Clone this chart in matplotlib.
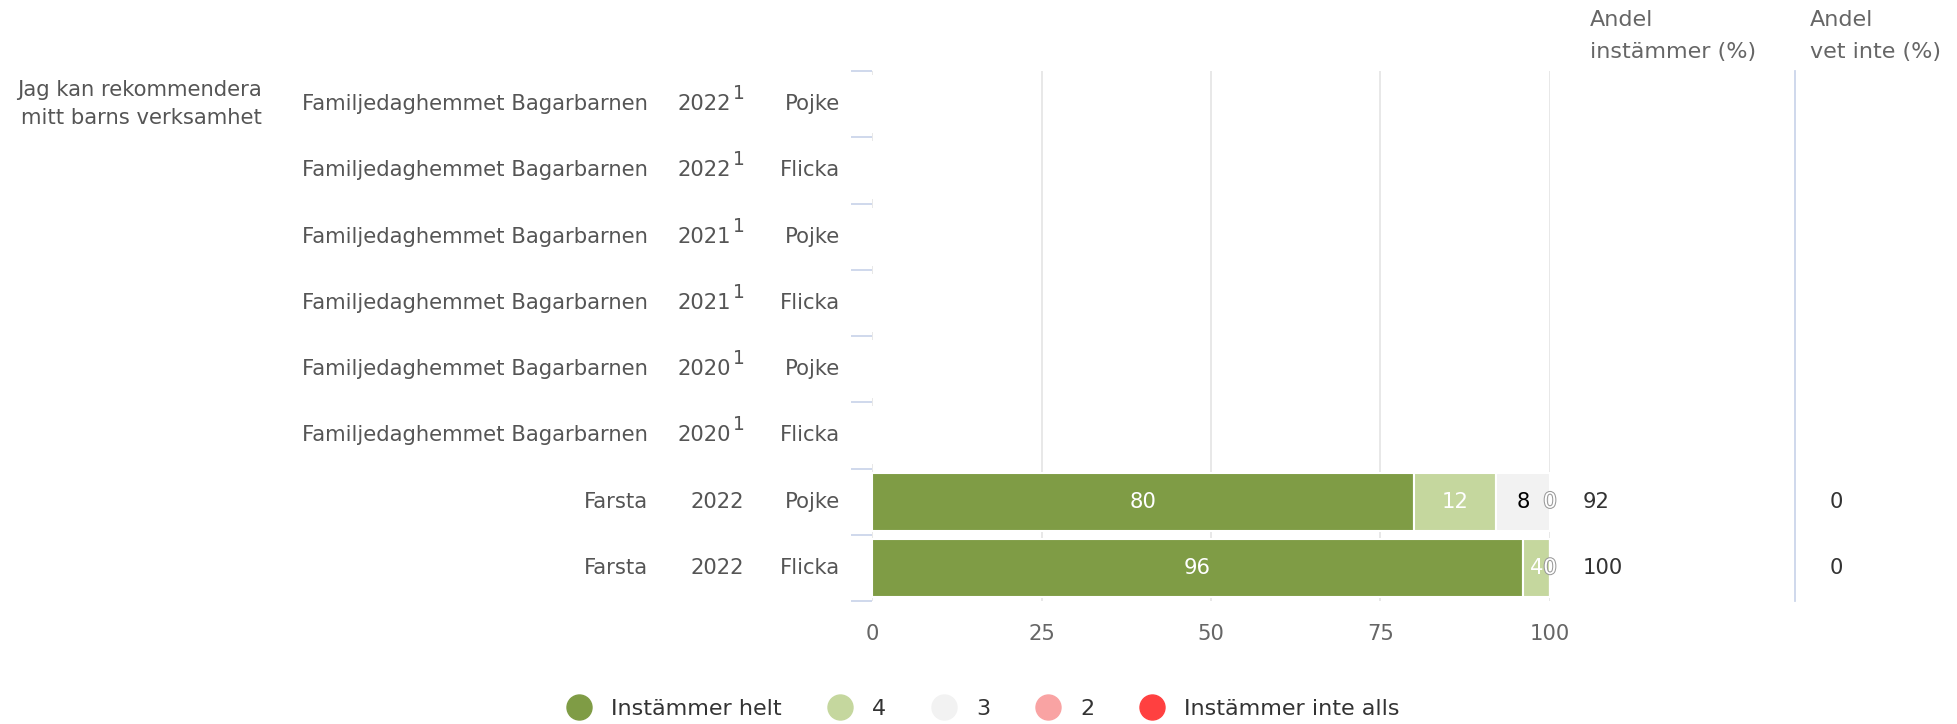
import numpy as np
import matplotlib.pyplot as plt
import matplotlib.transforms as mtransforms
import matplotlib.patheffects as pe
from matplotlib.lines import Line2D

plt.rcParams['font.family'] = ['DejaVu Sans']

# data
question = "Jag kan rekommendera\nmitt barns verksamhet"
schools = ["Familjedaghemmet Bagarbarnen"] * 6 + ["Farsta", "Farsta"]
years = ["2022", "2022", "2021", "2021", "2020", "2020", "2022", "2022"]
notes = ["1", "1", "1", "1", "1", "1", "", ""]
genders = ["Pojke", "Flicka", "Pojke", "Flicka", "Pojke", "Flicka", "Pojke", "Flicka"]

series_names = ["Instämmer helt", "4", "3", "2", "Instämmer inte alls"]
series_colors = ["#7f9c45", "#c5d79e", "#f2f2f2", "#f9a3a3", "#ff4040"]
label_colors = ["white", "white", "black", "white", "white"]

nan = np.nan
values = np.array([
    [nan, nan, nan, nan, nan],
    [nan, nan, nan, nan, nan],
    [nan, nan, nan, nan, nan],
    [nan, nan, nan, nan, nan],
    [nan, nan, nan, nan, nan],
    [nan, nan, nan, nan, nan],
    [80, 12, 8, 0, 0],
    [96, 4, 0, 0, 0],
])
andel_instammer = ["", "", "", "", "", "", "92", "100"]
andel_vet_inte = ["", "", "", "", "", "", "0", "0"]
xticks = [0, 25, 50, 75, 100]

W, H = 1957, 724
fig = plt.figure(figsize=(W / 100, H / 100), dpi=100)
ax_left, ax_right, ax_top, ax_bot = 872, 1550, 71, 601
ax = fig.add_axes([ax_left / W, 1 - ax_bot / H, (ax_right - ax_left) / W, (ax_bot - ax_top) / H])

y = np.arange(len(schools))
left = np.zeros(len(schools))
for j, name in enumerate(series_names):
    v = np.nan_to_num(values[:, j])
    ax.barh(y, v, left=left, height=0.875, color=series_colors[j],
            edgecolor="white", linewidth=1.5, label=name, zorder=3)
    left = left + v

# segment labels
fs = 15.2
for i in range(len(schools)):
    if np.all(np.isnan(values[i])):
        continue
    start = 0
    zero_done = False
    for j in range(len(series_names)):
        v = values[i, j]
        if v > 0:
            ax.text(start + v / 2, y[i], f"{v:g}", ha="center", va="center",
                    color=label_colors[j], fontsize=fs, zorder=5)
        elif not zero_done:
            ax.text(start, y[i], "0", ha="center", va="center", color="white",
                    fontsize=fs, zorder=5,
                    path_effects=[pe.withStroke(linewidth=1.5, foreground="#999999")])
            zero_done = True
        start += v

ax.set_xlim(0, 100)
ax.set_ylim(len(schools) - 0.5, -0.5)

for t in xticks:
    ax.axvline(t, color="#e6e6e6", linewidth=1.3, zorder=1)

for s in ["top", "right", "bottom", "left"]:
    ax.spines[s].set_visible(False)

ax.set_xticks(xticks)
ax.set_xticklabels([str(t) for t in xticks])
ax.tick_params(axis="x", length=0, pad=16.5, labelsize=fs, labelcolor="#666666")
ax.set_yticks(np.arange(len(schools) + 1) - 0.5)
ax.set_yticklabels([])
ax.tick_params(axis="y", direction="out", length=15, color="#ccd6eb", width=1.3)

# left labels
tr = mtransforms.blended_transform_factory(fig.transFigure, ax.transData)
txt = dict(fontsize=fs, color="#555555", va="center", transform=tr)
ax.text(262 / W, 0, question, ha="right", linespacing=1.5, **txt)
for i in range(len(schools)):
    ax.text(648 / W, y[i], schools[i], ha="right", **txt)
    if notes[i]:
        ax.text(731 / W, y[i], years[i], ha="right", **txt)
        ax.text(733 / W, y[i] - 0.16, notes[i], ha="left", fontsize=13.5,
                color="#555555", va="center", transform=tr)
    else:
        ax.text(744 / W, y[i], years[i], ha="right", **txt)
    ax.text(840 / W, y[i], genders[i], ha="right", **txt)
    ax.text(1583 / W, y[i], andel_instammer[i], ha="left", fontsize=fs,
            color="#333333", va="center", transform=tr)
    ax.text(1830 / W, y[i], andel_vet_inte[i], ha="left", fontsize=fs,
            color="#333333", va="center", transform=tr)

# separator for "vet inte" column
fig.add_artist(Line2D([1795 / W, 1795 / W], [1 - ax_bot / H, 1 - ax_top / H],
                      transform=fig.transFigure, color="#ccd6eb", linewidth=1.3))

for x0, head in [(1590, "Andel\ninstämmer (%)"), (1810, "Andel\nvet inte (%)")]:
    fig.text(x0 / W, 1 - 10 / H, head, ha="left", va="top",
             fontsize=16, color="#666666", linespacing=1.75)

handles = [Line2D([], [], marker="o", linestyle="", markersize=18, color=c)
           for c in series_colors]
fig.legend(handles, series_names, loc="center", bbox_to_anchor=(0.5, 1 - 709 / H),
           ncol=5, frameon=False, fontsize=16, labelcolor="#333333",
           handletextpad=0.45, columnspacing=1.6)

fig.savefig("out.png", dpi=100)
